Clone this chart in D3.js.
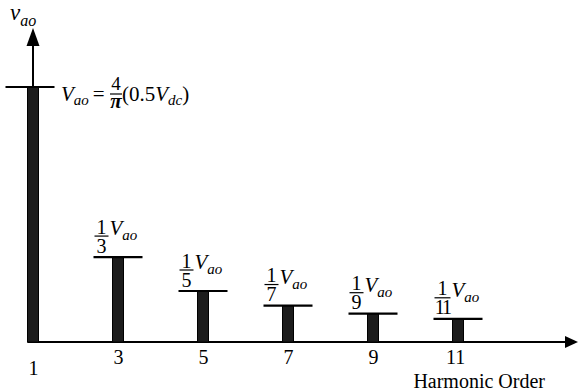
<!DOCTYPE html>
<html>
<head>
<meta charset="utf-8">
<script src="https://cdn.jsdelivr.net/npm/d3@7"></script>
<style>
  body { margin: 0; background: #fff; }
  svg text { font-family: "Liberation Serif", "Times New Roman", serif; fill: #000; }
</style>
</head>
<body>
<div id="chart"></div>
<script>
// harmonic spectrum of the pole voltage
const harmonics = [1, 3, 5, 7, 9, 11]
const amplitudes = [1, 0.333, 0.2, 0.143, 0.111, 0.091]   // relative to V_ao
const tickLabels = ['1', '3', '5', '7', '9', '11']
const denominators = ['', '3', '5', '7', '9', '11']

const width = 578, height = 392
const serif = '"Liberation Serif", "Times New Roman", serif'

const svg = d3.select('#chart').append('svg')
    .attr('width', width)
    .attr('height', height)
    .attr('font-family', serif)

const x = d3.scaleLinear().domain([1, 13]).range([33, 543])
const y = d3.scaleLinear().domain([0, 1]).range([342, 87])

const barW = 11
const capHalf = 24.5

// horizontal axis with arrow
svg.append('line')
    .attr('x1', x(1) - barW / 2).attr('x2', 568)
    .attr('y1', y(0)).attr('y2', y(0))
    .attr('stroke', '#000').attr('stroke-width', 2)
svg.append('path')
    .attr('d', `M578,${y(0)} L565,${y(0) - 6} L565,${y(0) + 6} Z`)
    .attr('fill', '#000')

// vertical axis with arrow
svg.append('line')
    .attr('x1', x(1)).attr('x2', x(1))
    .attr('y1', y(0)).attr('y2', 44)
    .attr('stroke', '#000').attr('stroke-width', 2)
svg.append('path')
    .attr('d', `M${x(1)},28 L${x(1) - 6.5},46 L${x(1) + 6.5},46 Z`)
    .attr('fill', '#000')

const data = harmonics.map((h, i) => ({ h, v: amplitudes[i], label: tickLabels[i], den: denominators[i] }))

// bars
svg.selectAll('rect.bar')
    .data(data)
    .enter().append('rect')
    .attr('class', 'bar')
    .attr('x', d => x(d.h) - barW / 2)
    .attr('y', d => y(d.v))
    .attr('width', barW)
    .attr('height', d => y(0) - y(d.v))
    .attr('fill', '#1c1c1c')
    .attr('stroke', '#000')
    .attr('stroke-width', 1)

// caps
svg.selectAll('line.cap')
    .data(data)
    .enter().append('line')
    .attr('class', 'cap')
    .attr('x1', d => x(d.h) - capHalf - (d.h === 1 ? 3 : 0))
    .attr('x2', d => x(d.h) + capHalf - (d.h === 1 ? 3 : 0))
    .attr('y1', d => y(d.v)).attr('y2', d => y(d.v))
    .attr('stroke', '#000').attr('stroke-width', 2.2)

// tick labels
const xAxis = d3.axisBottom(x)
    .tickValues(harmonics)
    .tickFormat((d, i) => tickLabels[i])
    .tickSize(0)
const ax = svg.append('g')
    .attr('transform', `translate(0,${y(0)})`)
    .call(xAxis)
ax.attr('font-family', serif)
ax.select('.domain').remove()
ax.selectAll('text')
    .attr('font-size', 20)
    .attr('fill', '#000')
    .attr('dy', (d) => d === 1 ? '1.5em' : '0.95em')
    .attr('dx', (d) => d === 11 ? -3 : 0)

svg.append('text')
    .attr('x', 545).attr('y', 388)
    .attr('text-anchor', 'end')
    .attr('font-size', 20)
    .text('Harmonic Order')

// y axis title v_ao
const yt = svg.append('text').attr('x', 10).attr('y', 20).attr('font-style', 'italic')
yt.append('tspan').attr('font-size', 23).text('v')
yt.append('tspan').attr('font-size', 16).attr('dy', 6).text('ao')

// fundamental formula
const fx = 61, fy = 101
const f1 = svg.append('text').attr('x', fx).attr('y', fy).attr('font-size', 21)
f1.append('tspan').attr('font-style', 'italic').text('V')
f1.append('tspan').attr('font-style', 'italic').attr('font-size', 15).attr('dy', 4).text('ao')
f1.append('tspan').attr('dy', -4).attr('dx', 4).text('=')
svg.append('text').attr('x', 116).attr('y', 90).attr('text-anchor', 'middle')
    .attr('font-size', 19).text('4')
svg.append('line').attr('x1', 110).attr('x2', 122).attr('y1', 94).attr('y2', 94)
    .attr('stroke', '#000').attr('stroke-width', 1.2)
svg.append('text').attr('x', 116).attr('y', 108).attr('text-anchor', 'middle')
    .attr('font-size', 21).attr('font-style', 'italic').attr('font-weight', 'bold').text('π')
const f2 = svg.append('text').attr('x', 122).attr('y', fy).attr('font-size', 21)
f2.append('tspan').text('(0.5')
f2.append('tspan').attr('font-style', 'italic').text('V')
f2.append('tspan').attr('font-style', 'italic').attr('font-size', 15).attr('dy', 4).text('dc')
f2.append('tspan').attr('dy', -4).text(')')

// harmonic labels 1/n V_ao
data.filter(d => d.den).forEach(d => {
    const xl = x(d.h) - capHalf + 1
    const w = 12 + 2 * d.den.length
    const yb = y(d.v) - 21
    const g = svg.append('g')
    g.append('line')
        .attr('x1', xl).attr('x2', xl + w)
        .attr('y1', yb).attr('y2', yb)
        .attr('stroke', '#000').attr('stroke-width', 1.2)
    g.append('text')
        .attr('x', xl + w / 2).attr('y', yb - 2.5)
        .attr('text-anchor', 'middle').attr('font-size', 20)
        .text('1')
    g.append('text')
        .attr('x', xl + w / 2).attr('y', yb + 16.5)
        .attr('text-anchor', 'middle').attr('font-size', 20)
        .attr('letter-spacing', d.den.length > 1 ? -2 : 0)
        .text(d.den)
    const t = g.append('text')
        .attr('x', xl + w + 1).attr('y', yb - 1)
        .attr('font-style', 'italic')
    t.append('tspan').attr('font-size', 21).text('V')
    t.append('tspan').attr('font-size', 15).attr('dy', 5).text('ao')
})
</script>
</body>
</html>
